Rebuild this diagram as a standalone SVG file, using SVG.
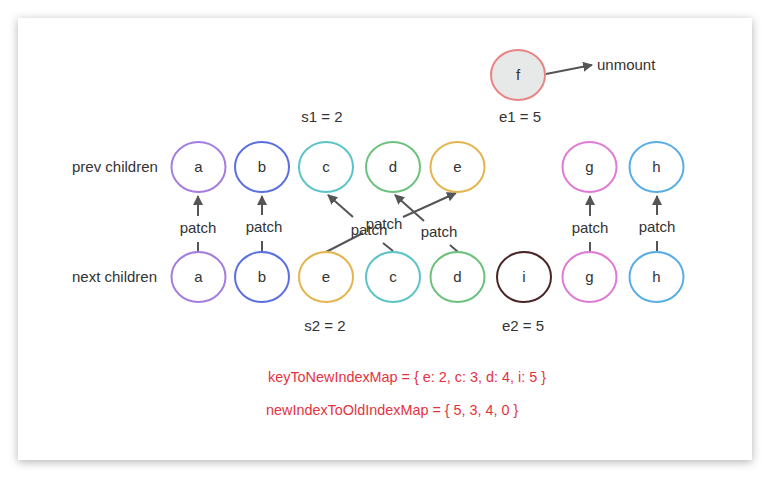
<svg xmlns="http://www.w3.org/2000/svg" width="771" height="478" viewBox="0 0 771 478">
<defs>
<filter id="sh" x="-10%" y="-10%" width="120%" height="120%">
<feDropShadow dx="0" dy="2" stdDeviation="5" flood-color="#000" flood-opacity="0.3"/>
</filter>
<marker id="ah" viewBox="0 0 10 10" refX="9" refY="5" markerWidth="10" markerHeight="10" markerUnits="userSpaceOnUse" orient="auto">
<path d="M0,0 L10,5 L0,10 z" fill="#555"/>
</marker>
</defs>
<style>
text{font-family:"Liberation Sans",Arial,sans-serif;font-size:15px;fill:#333}
.nl{text-anchor:middle}
.n{fill:#fff;stroke-width:2}
.c{fill:none;stroke:#555;stroke-width:2}
.red{fill:#e5323f;font-size:14.4px}
</style>
<rect x="18" y="18" width="734" height="442" fill="#fff" filter="url(#sh)"/>

<text x="72" y="172">prev children</text>
<text x="72" y="282">next children</text>
<text class="nl" x="322" y="122">s1 = 2</text>
<text class="nl" x="520" y="122">e1 = 5</text>
<text class="nl" x="325" y="331">s2 = 2</text>
<text class="nl" x="523" y="331">e2 = 5</text>
<text x="597" y="70">unmount</text>
<text class="red" x="268" y="382">keyToNewIndexMap = { e: 2, c: 3, d: 4, i: 5 }</text>
<text class="red" x="266" y="415">newIndexToOldIndexMap = { 5, 3, 4, 0 }</text>

<g id="connectors">
<path class="c" d="M198,252 L198,242 M198,216 L198,196" marker-end="url(#ah)"/>
<text class="nl" x="198" y="233">patch</text>
<path class="c" d="M262,252 L262,241 M262,215 L262,196" marker-end="url(#ah)"/>
<text class="nl" x="264" y="232">patch</text>
<path class="c" d="M326,252 L363,233 M403,217 L456,193" marker-end="url(#ah)"/>
<text class="nl" x="384" y="229">patch</text>
<path class="c" d="M393,251 L383,243 M353,217 L328,195" marker-end="url(#ah)"/>
<text class="nl" x="369" y="235">patch</text>
<path class="c" d="M458,252 L450,245 M424,221 L395,195" marker-end="url(#ah)"/>
<text class="nl" x="439" y="237">patch</text>
<path class="c" d="M590,252 L590,242 M590,216 L590,196" marker-end="url(#ah)"/>
<text class="nl" x="590" y="233">patch</text>
<path class="c" d="M657,252 L657,241 M657,215 L657,196" marker-end="url(#ah)"/>
<text class="nl" x="657" y="232">patch</text>
<path class="c" d="M546,74 L592,65" marker-end="url(#ah)"/>
</g>

<g id="node-f"><ellipse class="n" cx="518" cy="75" rx="27" ry="25" style="fill:#e7e8e8" stroke="#e88484"/><text class="nl" x="518" y="80">f</text></g>

<g id="prev-a"><ellipse class="n" cx="198.5" cy="167" rx="27" ry="25" stroke="#a47ddf"/><text class="nl" x="198.5" y="172">a</text></g>
<g id="prev-b"><ellipse class="n" cx="262" cy="167" rx="27" ry="25" stroke="#5a6fe0"/><text class="nl" x="262" y="172">b</text></g>
<g id="prev-c"><ellipse class="n" cx="326" cy="167" rx="27" ry="25" stroke="#5bc4c6"/><text class="nl" x="326" y="172">c</text></g>
<g id="prev-d"><ellipse class="n" cx="393" cy="167" rx="27" ry="25" stroke="#6cc27c"/><text class="nl" x="393" y="172">d</text></g>
<g id="prev-e"><ellipse class="n" cx="457.5" cy="167" rx="27" ry="25" stroke="#e4b54e"/><text class="nl" x="457.5" y="172">e</text></g>
<g id="prev-g"><ellipse class="n" cx="589.5" cy="167" rx="27" ry="25" stroke="#e07bd5"/><text class="nl" x="589.5" y="172">g</text></g>
<g id="prev-h"><ellipse class="n" cx="656.5" cy="167" rx="27" ry="25" stroke="#5aaee6"/><text class="nl" x="656.5" y="172">h</text></g>

<g id="next-a"><ellipse class="n" cx="198.5" cy="277" rx="27" ry="25" stroke="#a47ddf"/><text class="nl" x="198.5" y="282">a</text></g>
<g id="next-b"><ellipse class="n" cx="262" cy="277" rx="27" ry="25" stroke="#5a6fe0"/><text class="nl" x="262" y="282">b</text></g>
<g id="next-e"><ellipse class="n" cx="326" cy="277" rx="27" ry="25" stroke="#e4b54e"/><text class="nl" x="326" y="282">e</text></g>
<g id="next-c"><ellipse class="n" cx="393" cy="277" rx="27" ry="25" stroke="#5bc4c6"/><text class="nl" x="393" y="282">c</text></g>
<g id="next-d"><ellipse class="n" cx="457.5" cy="277" rx="27" ry="25" stroke="#6cc27c"/><text class="nl" x="457.5" y="282">d</text></g>
<g id="next-i"><ellipse class="n" cx="524" cy="277" rx="27" ry="25" stroke="#4a2526"/><text class="nl" x="524" y="282">i</text></g>
<g id="next-g"><ellipse class="n" cx="589.5" cy="277" rx="27" ry="25" stroke="#e07bd5"/><text class="nl" x="589.5" y="282">g</text></g>
<g id="next-h"><ellipse class="n" cx="656.5" cy="277" rx="27" ry="25" stroke="#5aaee6"/><text class="nl" x="656.5" y="282">h</text></g>
</svg>
